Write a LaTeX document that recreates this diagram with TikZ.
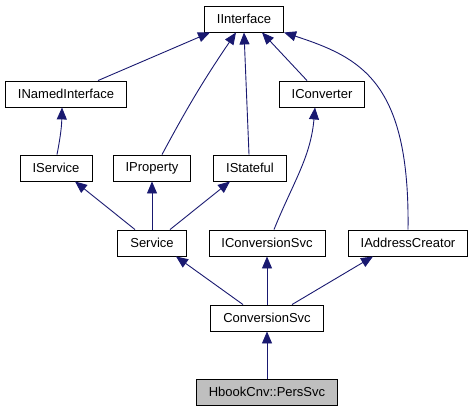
\documentclass[tikz,border=0pt]{standalone}
\usepackage{fontspec}
\setmainfont{Liberation Sans}
\usetikzlibrary{arrows.meta}
\definecolor{edgeblue}{HTML}{191970}
\definecolor{leafgray}{HTML}{BFBFBF}
\tikzset{%
  cls/.style = {rectangle,draw,solid,line width=0.9pt,minimum height=26pt,
        inner xsep=12.5pt,inner ysep=2pt,font=\fontsize{13}{15}\selectfont},
  leaf/.style = {cls,fill=leafgray},
  inh/.style = {-{Triangle[length=12pt,width=10pt]},solid,line width=0.9pt,
        color=edgeblue}
}

\begin{document}
\begin{tikzpicture}[x=1pt,y=1pt]
        \useasboundingbox (0,0) rectangle (470,-410);
        % interfaces
        \node[cls] (iint) at (244,-19) {IInterface};
        \node[cls] (inamed) at (66,-94) {INamedInterface};
        \node[cls] (iconv) at (322,-94) {IConverter};
        \node[cls] (iserv) at (56,-168) {IService};
        \node[cls] (iprop) at (152,-168) {IProperty};
        \node[cls] (istate) at (250,-168) {IStateful};
        % services
        \node[cls] (service) at (152,-243) {Service};
        \node[cls] (iconvsvc) at (267,-243) {IConversionSvc};
        \node[cls] (iaddr) at (408,-243) {IAddressCreator};
        \node[cls] (convsvc) at (267,-318) {ConversionSvc};
        \node[leaf] (pers) at (267,-392) {HbookCnv::PersSvc};
        % inheritance towards IInterface
        \draw[inh] ([xshift=32]inamed.north) -- ([xshift=-34]iint.south);
        \draw[inh] ([xshift=10]iprop.north) to[bend left=3] ([xshift=-8]iint.south);
        \draw[inh] ([xshift=-1]istate.north) -- (iint.south);
        \draw[inh] ([xshift=-15]iconv.north) -- ([xshift=18]iint.south);
        \draw[inh] (iaddr.north) .. controls +(2,149) and +(76,-25) .. (iint.south east);
        \draw[inh] ([xshift=1]iserv.north) to[bend right=5] ([xshift=-4]inamed.south);
        \draw[inh] ([xshift=7]iconvsvc.north) to[out=68,in=-95] ([xshift=-7]iconv.south);
        % inheritance of Service
        \draw[inh] ([xshift=-17]service.north) -- ([xshift=19]iserv.south);
        \draw[inh] (service.north) -- (iprop.south);
        \draw[inh] ([xshift=18]service.north) -- ([xshift=-20]istate.south);
        % inheritance of ConversionSvc
        \draw[inh] ([xshift=-24]convsvc.north) -- ([xshift=24]service.south);
        \draw[inh] (convsvc.north) -- (iconvsvc.south);
        \draw[inh] ([xshift=25]convsvc.north) -- ([xshift=-35]iaddr.south);
        \draw[inh] (pers.north) -- (convsvc.south);
\end{tikzpicture}
\end{document}
